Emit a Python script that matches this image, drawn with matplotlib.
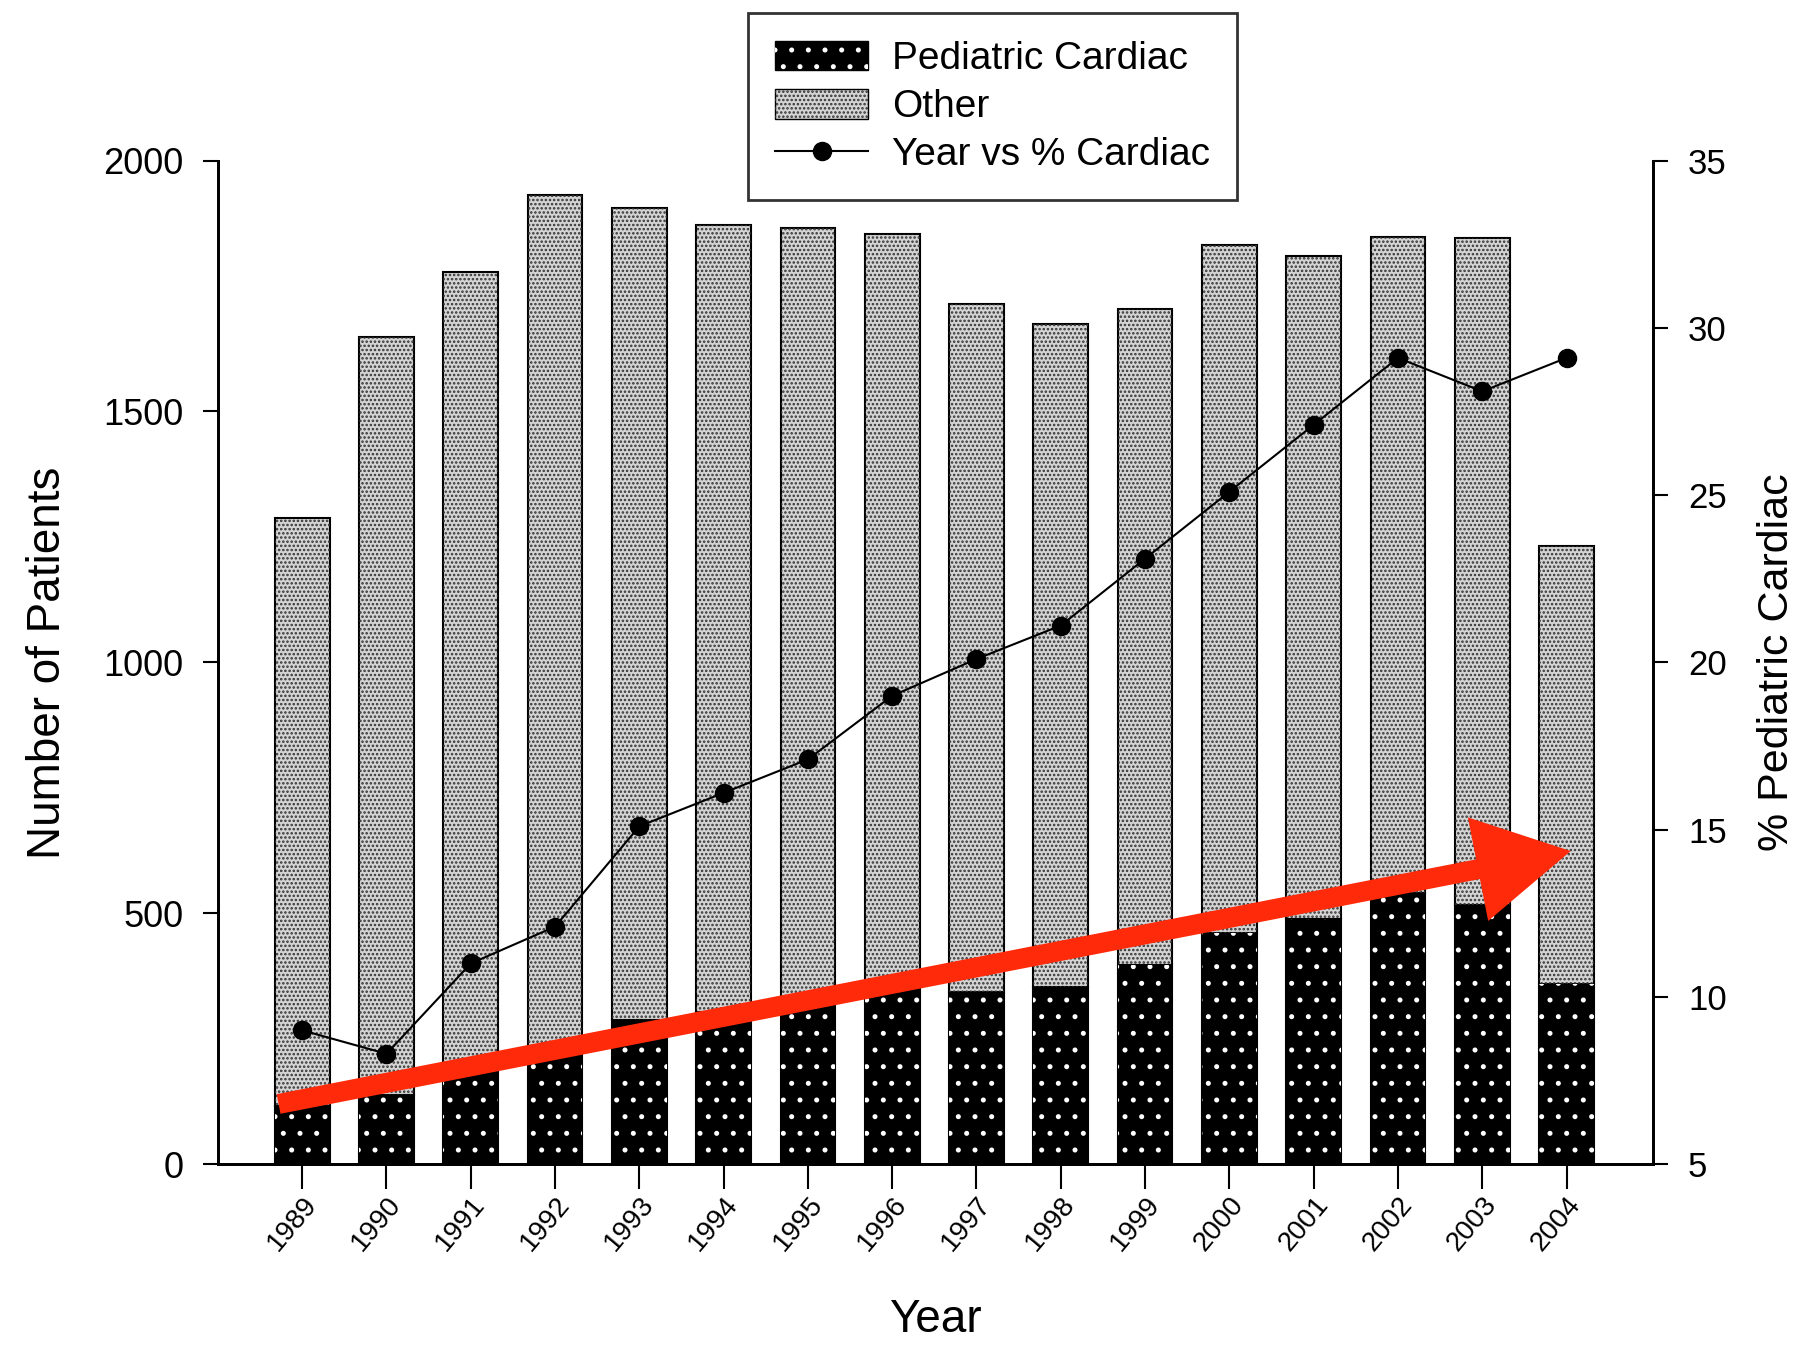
import matplotlib
matplotlib.use('Agg')
import matplotlib.pyplot as plt
from matplotlib.patches import Patch
from matplotlib.lines import Line2D
import numpy as np

plt.rcParams['font.family'] = ['Liberation Sans', 'DejaVu Sans']
plt.rcParams['hatch.linewidth'] = 1.2

years = ['1989', '1990', '1991', '1992', '1993', '1994', '1995', '1996',
         '1997', '1998', '1999', '2000', '2001', '2002', '2003', '2004']
cardiac = [116, 138, 196, 233, 288, 303, 321, 355, 344, 354, 397, 461, 488, 540, 517, 359]
other = [1172, 1510, 1581, 1699, 1618, 1569, 1545, 1498, 1370, 1320, 1308, 1371, 1322, 1308, 1329, 872]
pct_cardiac = [9.0, 8.3, 11.0, 12.1, 15.1, 16.1, 17.1, 19.0, 20.1, 21.1, 23.1, 25.1, 27.1, 29.1, 28.1, 29.1]

# hand-drawn trend arrow (start -> tip), in bar index / patient count units
arrow_start = (-0.28, 120)
arrow_tip = (15.05, 624)

x = np.arange(len(years))
w = 0.65

fig = plt.figure(figsize=(18.01, 13.49), dpi=100)
ax = fig.add_axes([0.121, 0.137, 0.797, 0.744])
ax2 = ax.twinx()

# black bars with white speckle
ax.bar(x, cardiac, w, color='black', edgecolor='black', linewidth=1.5, zorder=2)
ax.bar(x, cardiac, w, fill=False, edgecolor='white', hatch='.', linewidth=0, zorder=3)
# stippled grey bars on top
ax.bar(x, other, w, bottom=cardiac, color='#d4d4d4', edgecolor='black',
       linewidth=1.5, zorder=2)
ax.bar(x, other, w, bottom=cardiac, fill=False, edgecolor='#333333', hatch='....',
       linewidth=0, zorder=3)

ax.annotate('', xy=arrow_tip, xytext=arrow_start,
            arrowprops=dict(arrowstyle='simple,head_length=1.7,head_width=1.9,tail_width=0.36',
                            mutation_scale=40, color='#ff2a0a', lw=0, shrinkA=0, shrinkB=0),
            zorder=5)

ax2.plot(x, pct_cardiac, color='black', linewidth=1.5, marker='o', markersize=13)

ax.set_xlim(-1, 16.03)
ax.set_ylim(0, 2000)
ax2.set_ylim(5, 35)

ax.set_xticks(x)
ax.set_xticklabels(years, rotation=50, ha='right', va='top', rotation_mode='anchor',
                   fontsize=20)
ax.set_yticks([0, 500, 1000, 1500, 2000])
ax2.set_yticks([5, 10, 15, 20, 25, 30, 35])

ax.tick_params(axis='x', length=18, width=1.5, pad=2)
ax.tick_params(axis='y', length=11, width=1.5, pad=14, labelsize=26)
ax2.tick_params(axis='y', length=11, width=1.5, pad=14, labelsize=25)

for a in (ax, ax2):
    a.spines['top'].set_visible(False)
    for s in ('left', 'right', 'bottom'):
        a.spines[s].set_linewidth(2)

ax.set_xlabel('Year', fontsize=33, labelpad=30)
ax.set_ylabel('Number of Patients', fontsize=33, labelpad=24)
ax2.set_ylabel('% Pediatric Cardiac', fontsize=31, labelpad=22)

handles = [
    (Patch(facecolor='black', edgecolor='black'),
     Patch(fill=False, edgecolor='white', hatch='.', linewidth=0)),
    (Patch(facecolor='#d4d4d4', edgecolor='black'),
     Patch(fill=False, edgecolor='#333333', hatch='....', linewidth=0)),
    Line2D([], [], color='black', linewidth=1.5, marker='o', markersize=13),
]
labels = ['Pediatric Cardiac', 'Other', 'Year vs % Cardiac']
leg = fig.legend(handles, labels, loc='upper center', bbox_to_anchor=(0.551, 0.99),
                 borderaxespad=0, fontsize=28, frameon=True, fancybox=False,
                 edgecolor='black', handlelength=2.4, handleheight=0.8,
                 handletextpad=0.6, borderpad=0.7, labelspacing=0.3)
leg.get_frame().set_linewidth(2)

fig.savefig('out.png', dpi=100, facecolor='white')
